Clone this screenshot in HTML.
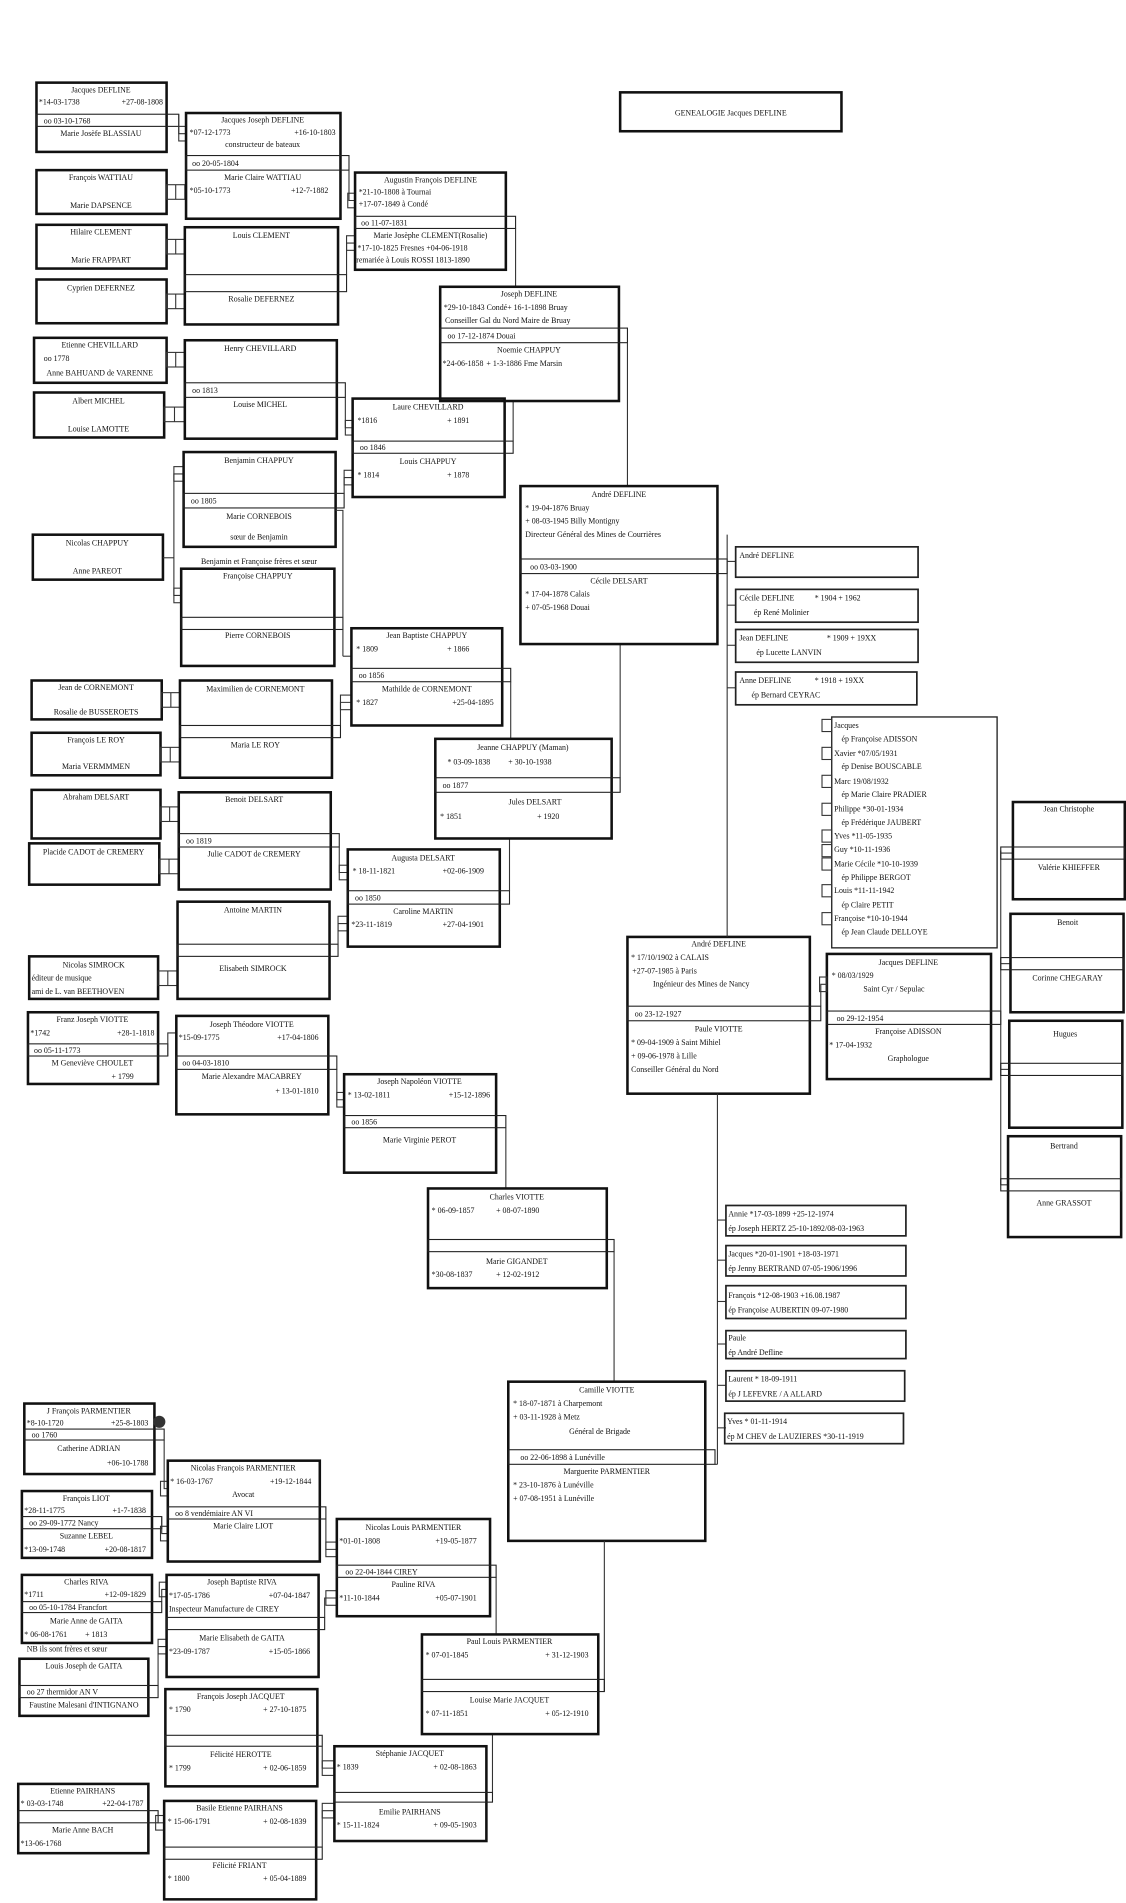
<!DOCTYPE html>
<html><head><meta charset="utf-8"><style>
html,body{margin:0;padding:0;background:#fff;}
svg{display:block}
text{font-family:"Liberation Serif",serif;font-size:6.5px;fill:#111;}
.b{fill:none;stroke:#111;stroke-width:2.1}
.s{fill:none;stroke:#222;stroke-width:.9}
.l{fill:none;stroke:#333;stroke-width:.9}
.c{text-anchor:middle}
.e{text-anchor:end}
</style></head><body>
<svg width="1126" height="1903" viewBox="0 0 926 1566" preserveAspectRatio="none" xmlns="http://www.w3.org/2000/svg">
<rect x="0" y="0" width="926" height="1566" fill="#fff"/>

<!-- Title -->
<rect class="b" x="510" y="76" width="182" height="32"/>
<text class="c" x="601" y="95">GENEALOGIE Jacques DEFLINE</text>

<!-- ===== Column 1 ===== -->
<rect class="b" x="30" y="68" width="107" height="57"/>
<rect class="s" x="30" y="94" width="117" height="10"/>
<text class="c" x="83" y="76">Jacques DEFLINE</text>
<text x="32" y="86">*14-03-1738</text><text class="e" x="134" y="86">+27-08-1808</text>
<text x="36" y="101.5">oo 03-10-1768</text>
<text class="c" x="83" y="112">Marie Josèfe BLASSIAU</text>

<rect class="b" x="30" y="140" width="107" height="36"/>
<text class="c" x="83" y="148">François WATTIAU</text><text class="c" x="83" y="171">Marie DAPSENCE</text>
<rect class="b" x="30" y="185" width="107" height="36"/>
<text class="c" x="83" y="193">Hilaire CLEMENT</text><text class="c" x="83" y="216">Marie FRAPPART</text>
<rect class="b" x="30" y="230" width="107" height="36"/>
<text class="c" x="83" y="239">Cyprien DEFERNEZ</text>
<rect class="b" x="28" y="278" width="109" height="37"/>
<text class="c" x="82" y="286">Etienne CHEVILLARD</text><text x="36" y="297">oo 1778</text><text class="c" x="82" y="309">Anne BAHUAND de VARENNE</text>
<rect class="b" x="28" y="323" width="107" height="37"/>
<text class="c" x="81" y="332">Albert MICHEL</text><text class="c" x="81" y="355">Louise LAMOTTE</text>
<rect class="b" x="27" y="440" width="107" height="37"/>
<text class="c" x="80" y="449">Nicolas CHAPPUY</text><text class="c" x="80" y="472">Anne PAREOT</text>
<rect class="b" x="26" y="560" width="107" height="32"/>
<text class="c" x="79" y="568">Jean de CORNEMONT</text><text class="c" x="79" y="588">Rosalie de BUSSEROETS</text>
<rect class="b" x="26" y="603" width="106" height="35"/>
<text class="c" x="79" y="611">François LE ROY</text><text class="c" x="79" y="633">Maria VERMMMEN</text>
<rect class="b" x="26" y="650" width="106" height="40"/>
<text class="c" x="79" y="658">Abraham DELSART</text>
<rect class="b" x="24" y="694" width="107" height="34"/>
<text class="c" x="77" y="703">Placide CADOT de CREMERY</text>
<rect class="b" x="24" y="787" width="106" height="35"/>
<text class="c" x="77" y="796">Nicolas SIMROCK</text><text x="26" y="807">éditeur de musique</text><text x="26" y="818">ami de L. van BEETHOVEN</text>
<rect class="b" x="23" y="833" width="107" height="59"/>
<rect class="s" x="23" y="859" width="115" height="10"/>
<text class="c" x="76" y="841">Franz Joseph VIOTTE</text>
<text x="25" y="852">*1742</text><text class="e" x="127" y="852">+28-1-1818</text>
<text x="28" y="866.5">oo 05-11-1773</text>
<text class="c" x="76" y="877">M Geneviève CHOULET</text><text class="e" x="110" y="888">+ 1799</text>

<!-- icons between col1 and col2 -->
<g class="l">
<rect x="137" y="152" width="15" height="12"/><line x1="144.5" y1="152" x2="144.5" y2="164"/>
<rect x="137" y="197" width="15" height="12"/><line x1="144.5" y1="197" x2="144.5" y2="209"/>
<rect x="137" y="242" width="15" height="12"/><line x1="144.5" y1="242" x2="144.5" y2="254"/>
<rect x="137" y="290" width="15" height="12"/><line x1="144.5" y1="290" x2="144.5" y2="302"/>
<rect x="135" y="335" width="17" height="12"/><line x1="143.5" y1="335" x2="143.5" y2="347"/>
<rect x="133" y="570" width="15" height="12"/><line x1="140.5" y1="570" x2="140.5" y2="582"/>
<rect x="132" y="615" width="16" height="12"/><line x1="140" y1="615" x2="140" y2="627"/>
<rect x="132" y="664" width="15" height="12"/><line x1="139.5" y1="664" x2="139.5" y2="676"/>
<rect x="131" y="707" width="16" height="12"/><line x1="139" y1="707" x2="139" y2="719"/>
<rect x="130" y="799" width="16" height="12"/><line x1="138" y1="799" x2="138" y2="811"/>
<polyline points="147,94 147,110 153,110"/><rect x="147" y="104" width="6" height="12"/>
<polyline points="138,869 138,850 145,850"/>
<polyline points="151,390 143,390 143,490 149,490"/><line x1="134" y1="459" x2="143" y2="459"/>
<rect x="143" y="384" width="8" height="12"/><rect x="143" y="484" width="6" height="12"/>
</g>

<!-- ===== Column 2 ===== -->
<rect class="b" x="153" y="93" width="127" height="87"/>
<rect class="s" x="153" y="128" width="134" height="12"/>
<text class="c" x="216" y="101">Jacques Joseph DEFLINE</text>
<text x="156" y="111">*07-12-1773</text><text class="e" x="276" y="111">+16-10-1803</text>
<text class="c" x="216" y="121">constructeur de bateaux</text>
<text x="158" y="136.5">oo 20-05-1804</text>
<text class="c" x="216" y="148">Marie Claire WATTIAU</text>
<text x="156" y="159">*05-10-1773</text><text class="e" x="270" y="159">+12-7-1882</text>

<rect class="b" x="152" y="187" width="126" height="80"/>
<rect class="s" x="152" y="226" width="133" height="14"/>
<text class="c" x="215" y="196">Louis CLEMENT</text>
<text class="c" x="215" y="248">Rosalie DEFERNEZ</text>

<rect class="b" x="152" y="280" width="125" height="81"/>
<rect class="s" x="152" y="315" width="132" height="12"/>
<text class="c" x="214" y="289">Henry CHEVILLARD</text>
<text x="158" y="323.5">oo 1813</text>
<text class="c" x="214" y="335">Louise MICHEL</text>

<rect class="b" x="151" y="372" width="125" height="78"/>
<rect class="s" x="151" y="406" width="132" height="12"/>
<text class="c" x="213" y="381">Benjamin CHAPPUY</text>
<text x="157" y="414.5">oo 1805</text>
<text class="c" x="213" y="427">Marie CORNEBOIS</text>
<text class="c" x="213" y="444">sœur de Benjamin</text>
<text class="c" x="213" y="464">Benjamin et Françoise frères et sœur</text>

<rect class="b" x="149" y="468" width="126" height="80"/>
<rect class="s" x="149" y="508" width="133" height="10"/>
<text class="c" x="212" y="476">Françoise CHAPPUY</text>
<text class="c" x="212" y="525">Pierre CORNEBOIS</text>

<rect class="b" x="148" y="560" width="125" height="80"/>
<rect class="s" x="148" y="597" width="132" height="10"/>
<text class="c" x="210" y="569">Maximilien de CORNEMONT</text>
<text class="c" x="210" y="615">Maria LE ROY</text>

<rect class="b" x="147" y="652" width="125" height="80"/>
<rect class="s" x="147" y="686" width="132" height="11"/>
<text class="c" x="209" y="660">Benoit DELSART</text>
<text x="153" y="694">oo 1819</text>
<text class="c" x="209" y="705">Julie CADOT de CREMERY</text>

<rect class="b" x="146" y="742" width="125" height="80"/>
<rect class="s" x="146" y="777" width="132" height="10"/>
<text class="c" x="208" y="751">Antoine MARTIN</text>
<text class="c" x="208" y="799">Elisabeth SIMROCK</text>

<rect class="b" x="145" y="836" width="125" height="81"/>
<rect class="s" x="145" y="869" width="132" height="11"/>
<text class="c" x="207" y="845">Joseph Théodore VIOTTE</text>
<text x="147" y="856">*15-09-1775</text><text class="e" x="262" y="856">+17-04-1806</text>
<text x="150" y="877">oo 04-03-1810</text>
<text class="c" x="207" y="888">Marie Alexandre MACABREY</text>
<text class="e" x="262" y="900">+ 13-01-1810</text>

<g class="l">
<polyline points="287,140 287,165 292,165"/><rect x="286" y="159" width="6" height="12"/>
<polyline points="285,226 285,200 292,200"/><rect x="285" y="194" width="7" height="12"/>
<polyline points="284,327 284,352 290,352"/><rect x="284" y="346" width="6" height="12"/>
<polyline points="283,406 283,393 290,393"/><rect x="283" y="387" width="7" height="12"/>
<polyline points="282,508 282,420 276,420"/>
<polyline points="280,597 280,578 289,578"/><rect x="280" y="572" width="9" height="12"/>
<polyline points="279,697 279,718 286,718"/><rect x="279" y="712" width="7" height="12"/>
<polyline points="278,777 278,760 286,760"/><rect x="278" y="754" width="8" height="12"/>
<polyline points="277,880 277,905 283,905"/><rect x="277" y="899" width="6" height="12"/>
<line x1="282" y1="518" x2="282" y2="540"/><line x1="282" y1="540" x2="289" y2="540"/>
</g>

<!-- ===== Column 3 ===== -->
<rect class="b" x="292" y="142" width="124" height="80"/>
<rect class="s" x="292" y="178" width="132" height="10"/>
<text class="c" x="354" y="150">Augustin François DEFLINE</text>
<text x="295" y="160">*21-10-1808 à Tournai</text>
<text x="295" y="170">+17-07-1849 à Condé</text>
<text x="297" y="185.5">oo 11-07-1831</text>
<text class="c" x="354" y="196">Marie Josèphe CLEMENT(Rosalie)</text>
<text x="294" y="206">*17-10-1825 Fresnes +04-06-1918</text>
<text x="293" y="216">remariée à Louis ROSSI 1813-1890</text>

<rect class="b" x="290" y="328" width="125" height="81"/>
<rect class="s" x="290" y="363" width="132" height="10"/>
<text class="c" x="352" y="337">Laure CHEVILLARD</text>
<text x="294" y="348">*1816</text><text class="e" x="386" y="348">+ 1891</text>
<text x="296" y="370.5">oo 1846</text>
<text class="c" x="352" y="382">Louis CHAPPUY</text>
<text x="294" y="393">* 1814</text><text class="e" x="386" y="393">+ 1878</text>

<rect class="b" x="289" y="517" width="124" height="80"/>
<rect class="s" x="289" y="550" width="131" height="11"/>
<text class="c" x="351" y="525">Jean Baptiste CHAPPUY</text>
<text x="293" y="536">* 1809</text><text class="e" x="386" y="536">+ 1866</text>
<text x="295" y="558">oo 1856</text>
<text class="c" x="351" y="569">Mathilde de CORNEMONT</text>
<text x="293" y="580">* 1827</text><text class="e" x="406" y="580">+25-04-1895</text>

<rect class="b" x="286" y="699" width="125" height="80"/>
<rect class="s" x="286" y="733" width="133" height="11"/>
<text class="c" x="348" y="708">Augusta DELSART</text>
<text x="290" y="719">* 18-11-1821</text><text class="e" x="398" y="719">+02-06-1909</text>
<text x="292" y="741">oo 1850</text>
<text class="c" x="348" y="752">Caroline MARTIN</text>
<text x="289" y="763">*23-11-1819</text><text class="e" x="398" y="763">+27-04-1901</text>

<rect class="b" x="283" y="884" width="125" height="81"/>
<rect class="s" x="283" y="918" width="133" height="10"/>
<text class="c" x="345" y="892">Joseph Napoléon VIOTTE</text>
<text x="286" y="903">* 13-02-1811</text><text class="e" x="403" y="903">+15-12-1896</text>
<text x="289" y="925.5">oo 1856</text>
<text class="c" x="345" y="940">Marie Virginie PEROT</text>

<g class="l">
<polyline points="424,188 424,236"/>
<polyline points="422,363 422,330"/>
<polyline points="420,561 420,608"/>
<polyline points="419,733 419,690"/>
<polyline points="416,928 416,978"/>
</g>

<!-- ===== Column 4 ===== -->
<rect class="b" x="362" y="236" width="147" height="94"/>
<rect class="s" x="362" y="270" width="154" height="12"/>
<text class="c" x="435" y="244">Joseph DEFLINE</text>
<text x="365" y="255">*29-10-1843 Condé+ 16-1-1898 Bruay</text>
<text x="366" y="266">Conseiller Gal du Nord Maire de Bruay</text>
<text x="368" y="278.5">oo 17-12-1874 Douai</text>
<text class="c" x="435" y="290">Noemie CHAPPUY</text>
<text x="364" y="301">*24-06-1858</text><text x="400" y="301">+ 1-3-1886 Fme Marsin</text>

<rect class="b" x="358" y="608" width="145" height="82"/>
<rect class="s" x="358" y="640" width="152" height="12"/>
<text class="c" x="430" y="617">Jeanne CHAPPUY (Maman)</text>
<text x="368" y="629">* 03-09-1838</text><text x="418" y="629">+ 30-10-1938</text>
<text x="364" y="648.5">oo 1877</text>
<text class="c" x="440" y="662">Jules DELSART</text>
<text x="362" y="674">* 1851</text><text class="e" x="460" y="674">+ 1920</text>

<rect class="b" x="352" y="978" width="147" height="82"/>
<rect class="s" x="352" y="1020" width="153" height="10"/>
<text class="c" x="425" y="987">Charles VIOTTE</text>
<text x="355" y="998">* 06-09-1857</text><text x="408" y="998">+ 08-07-1890</text>
<text class="c" x="425" y="1040">Marie GIGANDET</text>
<text x="355" y="1051">*30-08-1837</text><text x="408" y="1051">+ 12-02-1912</text>

<g class="l">
<polyline points="516,282 516,400"/>
<polyline points="510,640 510,530"/>
<polyline points="505,1030 505,1137"/>
</g>

<!-- ===== Column 5 ===== -->
<rect class="b" x="428" y="400" width="162" height="130"/>
<rect class="s" x="428" y="460" width="170" height="12"/>
<text class="c" x="509" y="409">André DEFLINE</text>
<text x="432" y="420">* 19-04-1876 Bruay</text>
<text x="432" y="431">+ 08-03-1945 Billy Montigny</text>
<text x="432" y="442">Directeur Général des Mines de Courrières</text>
<text x="436" y="468.5">oo 03-03-1900</text>
<text class="c" x="509" y="480">Cécile DELSART</text>
<text x="432" y="491">* 17-04-1878 Calais</text>
<text x="432" y="502">+ 07-05-1968 Douai</text>

<rect class="b" x="516" y="771" width="150" height="129"/>
<rect class="s" x="516" y="828" width="159" height="12"/>
<text class="c" x="591" y="779">André DEFLINE</text>
<text x="519" y="790">* 17/10/1902 à CALAIS</text>
<text x="520" y="801">+27-07-1985 à Paris</text>
<text x="537" y="812">Ingénieur des Mines de Nancy</text>
<text x="522" y="836.5">oo 23-12-1927</text>
<text class="c" x="591" y="849">Paule VIOTTE</text>
<text x="519" y="860">* 09-04-1909 à Saint Mihiel</text>
<text x="519" y="871">+ 09-06-1978 à Lille</text>
<text x="519" y="882">Conseiller Général du Nord</text>

<rect class="b" x="418" y="1137" width="162" height="131"/>
<rect class="s" x="418" y="1193" width="170" height="12"/>
<text class="c" x="499" y="1146">Camille VIOTTE</text>
<text x="422" y="1157">* 18-07-1871 à Charpemont</text>
<text x="422" y="1168">+ 03-11-1928 à Metz</text>
<text x="468" y="1180">Général de Brigade</text>
<text x="428" y="1201.5">oo 22-06-1898 à Lunéville</text>
<text class="c" x="499" y="1213">Marguerite PARMENTIER</text>
<text x="422" y="1224">* 23-10-1876 à Lunéville</text>
<text x="422" y="1235">+ 07-08-1951 à Lunéville</text>

<g class="l">
<line x1="598" y1="440" x2="598" y2="771"/>
<line x1="598" y1="462" x2="605" y2="462"/>
<line x1="598" y1="498" x2="605" y2="498"/>
<line x1="598" y1="531" x2="605" y2="531"/>
<line x1="598" y1="566" x2="605" y2="566"/>
<line x1="590" y1="900" x2="590" y2="1205"/>
<line x1="588" y1="1205" x2="590" y2="1205"/>
<line x1="590" y1="1004" x2="597" y2="1004"/>
<line x1="590" y1="1037" x2="597" y2="1037"/>
<line x1="590" y1="1071" x2="597" y2="1071"/>
<line x1="590" y1="1106" x2="597" y2="1106"/>
<line x1="590" y1="1140" x2="597" y2="1140"/>
<line x1="590" y1="1175" x2="597" y2="1175"/>
</g>
<rect class="s" x="605" y="450" width="150" height="25" style="stroke-width:1.4"/>
<text x="608" y="459">André DEFLINE</text>
<rect class="s" x="605" y="485" width="150" height="27" style="stroke-width:1.4"/>
<text x="608" y="494">Cécile DEFLINE</text><text x="670" y="494">* 1904 + 1962</text><text x="620" y="506">ép René Molinier</text>
<rect class="s" x="605" y="518" width="150" height="27" style="stroke-width:1.4"/>
<text x="608" y="527">Jean DEFLINE</text><text x="680" y="527">* 1909 + 19XX</text><text x="622" y="539">ép Lucette LANVIN</text>
<rect class="s" x="605" y="553" width="149" height="27" style="stroke-width:1.4"/>
<text x="608" y="562">Anne DEFLINE</text><text x="670" y="562">* 1918 + 19XX</text><text x="618" y="574">ép Bernard CEYRAC</text>

<rect class="s" x="684" y="590" width="136" height="190" style="stroke-width:1.1"/>
<g class="l">
<rect x="676" y="592" width="8" height="10"/><rect x="676" y="615" width="8" height="10"/>
<rect x="676" y="638" width="8" height="10"/><rect x="676" y="661" width="8" height="10"/>
<rect x="676" y="683" width="8" height="10"/><rect x="676" y="695" width="8" height="10"/>
<rect x="676" y="706" width="8" height="10"/><rect x="676" y="728" width="8" height="10"/>
<rect x="676" y="751" width="8" height="10"/>
</g>
<text x="686" y="599">Jacques</text>
<text x="692" y="610">ép Françoise ADISSON</text>
<text x="686" y="622">Xavier  *07/05/1931</text>
<text x="692" y="633">ép Denise BOUSCABLE</text>
<text x="686" y="645">Marc  19/08/1932</text>
<text x="692" y="656">ép  Marie Claire PRADIER</text>
<text x="686" y="668">Philippe  *30-01-1934</text>
<text x="692" y="679">ép  Frédérique JAUBERT</text>
<text x="686" y="690">Yves  *11-05-1935</text>
<text x="686" y="701">Guy  *10-11-1936</text>
<text x="686" y="713">Marie Cécile   *10-10-1939</text>
<text x="692" y="724">ép  Philippe BERGOT</text>
<text x="686" y="735">Louis  *11-11-1942</text>
<text x="692" y="747">ép  Claire PETIT</text>
<text x="686" y="758">Françoise *10-10-1944</text>
<text x="692" y="769">ép Jean Claude DELLOYE</text>

<rect class="b" x="680" y="785" width="135" height="103"/>
<rect class="s" x="680" y="832" width="143" height="11"/>
<text class="c" x="747" y="794">Jacques DEFLINE</text>
<text x="684" y="805">* 08/03/1929</text>
<text x="710" y="816">Saint Cyr / Sepulac</text>
<text x="688" y="840">oo 29-12-1954</text>
<text class="c" x="747" y="851">Françoise ADISSON</text>
<text x="682" y="862">* 17-04-1932</text>
<text x="730" y="873">Graphologue</text>
<g class="l">
<polyline points="675,828 675,810 680,810"/><rect x="674" y="804" width="6" height="12"/>
<line x1="823" y1="700" x2="823" y2="975"/>
<line x1="823" y1="702" x2="833" y2="702"/>
<line x1="823" y1="793" x2="831" y2="793"/>
<line x1="823" y1="880" x2="830" y2="880"/>
<line x1="823" y1="975" x2="829" y2="975"/>
</g>

<rect class="b" x="833" y="660" width="92" height="80"/>
<rect class="s" x="823" y="697" width="102" height="10"/>
<text class="c" x="879" y="668">Jean Christophe</text><text class="c" x="879" y="716">Valérie KHIEFFER</text>
<rect class="b" x="831" y="752" width="93" height="81"/>
<rect class="s" x="823" y="788" width="101" height="10"/>
<text class="c" x="878" y="761">Benoit</text><text class="c" x="878" y="807">Corinne CHEGARAY</text>
<rect class="b" x="830" y="840" width="93" height="88"/>
<rect class="s" x="823" y="875" width="100" height="10"/>
<text class="c" x="876" y="853">Hugues</text>
<rect class="b" x="829" y="935" width="93" height="83"/>
<rect class="s" x="823" y="970" width="99" height="10"/>
<text class="c" x="875" y="945">Bertrand</text><text class="c" x="875" y="992">Anne GRASSOT</text>

<rect class="s" x="597" y="992" width="148" height="25" style="stroke-width:1.4"/>
<text x="599" y="1001">Annie  *17-03-1899  +25-12-1974</text><text x="599" y="1013">ép Joseph HERTZ 25-10-1892/08-03-1963</text>
<rect class="s" x="597" y="1025" width="148" height="25" style="stroke-width:1.4"/>
<text x="599" y="1034">Jacques *20-01-1901 +18-03-1971</text><text x="599" y="1046">ép Jenny BERTRAND 07-05-1906/1996</text>
<rect class="s" x="597" y="1058" width="148" height="27" style="stroke-width:1.4"/>
<text x="599" y="1068">François  *12-08-1903 +16.08.1987</text><text x="599" y="1080">ép Françoise AUBERTIN 09-07-1980</text>
<rect class="s" x="597" y="1095" width="148" height="23" style="stroke-width:1.4"/>
<text x="599" y="1103">Paule</text><text x="599" y="1115">ép André Defline</text>
<rect class="s" x="597" y="1128" width="147" height="25" style="stroke-width:1.4"/>
<text x="599" y="1137">Laurent * 18-09-1911</text><text x="599" y="1149">ép J LEFEVRE / A ALLARD</text>
<rect class="s" x="596" y="1163" width="147" height="25" style="stroke-width:1.4"/>
<text x="598" y="1172">Yves * 01-11-1914</text><text x="598" y="1184">ép M CHEV de LAUZIERES *30-11-1919</text>

<!-- ===== Bottom left ===== -->
<rect class="b" x="20" y="1155" width="107" height="58"/>
<rect class="s" x="20" y="1176" width="115" height="9"/>
<text class="c" x="73" y="1163">J François PARMENTIER</text>
<text x="22" y="1173">*8-10-1720</text><text class="e" x="122" y="1173">+25-8-1803</text>
<text x="26" y="1183">oo  1760</text>
<text class="c" x="73" y="1194">Catherine ADRIAN</text>
<text class="e" x="122" y="1206">+06-10-1788</text>
<circle cx="131" cy="1170" r="5" fill="#333"/>

<rect class="b" x="18" y="1227" width="107" height="55"/>
<rect class="s" x="18" y="1248" width="115" height="10"/>
<text class="c" x="71" y="1235">François LIOT</text>
<text x="20" y="1245">*28-11-1775</text><text class="e" x="120" y="1245">+1-7-1838</text>
<text x="24" y="1255.5">oo  29-09-1772 Nancy</text>
<text class="c" x="71" y="1266">Suzanne LEBEL</text>
<text x="20" y="1277">*13-09-1748</text><text class="e" x="120" y="1277">+20-08-1817</text>

<rect class="b" x="18" y="1296" width="107" height="56"/>
<rect class="s" x="18" y="1318" width="115" height="9"/>
<text class="c" x="71" y="1304">Charles RIVA</text>
<text x="20" y="1314">*1711</text><text class="e" x="120" y="1314">+12-09-1829</text>
<text x="24" y="1325">oo  05-10-1784 Francfort</text>
<text class="c" x="71" y="1336">Marie Anne de GAITA</text>
<text x="20" y="1347">* 06-08-1761</text><text x="70" y="1347">+ 1813</text>
<text x="22" y="1359">NB ils sont frères et sœur</text>

<rect class="b" x="16" y="1365" width="106" height="47"/>
<rect class="s" x="16" y="1387" width="114" height="10"/>
<text class="c" x="69" y="1373">Louis Joseph de GAITA</text>
<text x="22" y="1394.5">oo  27 thermidor AN V</text>
<text class="c" x="69" y="1405">Faustine Malesani d'INTIGNANO</text>

<rect class="b" x="15" y="1468" width="107" height="57"/>
<rect class="s" x="15" y="1490" width="115" height="10"/>
<text class="c" x="68" y="1476">Etienne PAIRHANS</text>
<text x="17" y="1486">* 03-03-1748</text><text class="e" x="118" y="1486">+22-04-1787</text>
<text class="c" x="68" y="1508">Marie Anne BACH</text>
<text x="17" y="1519">*13-06-1768</text>

<g class="l">
<polyline points="135,1185 135,1225 138,1225"/><rect x="132" y="1219" width="6" height="12"/>
<polyline points="133,1248 133,1262 138,1262"/><rect x="132" y="1256" width="6" height="12"/>
<polyline points="133,1318 133,1308 137,1308"/><rect x="131" y="1302" width="6" height="12"/>
<polyline points="130,1387 130,1355 137,1355"/><rect x="130" y="1349" width="7" height="12"/>
<polyline points="130,1490 130,1500 135,1500"/><rect x="128" y="1494" width="7" height="12"/>
</g>

<rect class="b" x="138" y="1202" width="125" height="83"/>
<rect class="s" x="138" y="1240" width="130" height="10"/>
<text class="c" x="200" y="1210">Nicolas François PARMENTIER</text>
<text x="140" y="1221">* 16-03-1767</text><text class="e" x="256" y="1221">+19-12-1844</text>
<text class="c" x="200" y="1232">Avocat</text>
<text x="144" y="1247.5">oo  8 vendémiaire AN VI</text>
<text class="c" x="200" y="1258">Marie Claire LIOT</text>

<rect class="b" x="137" y="1296" width="125" height="84"/>
<rect class="s" x="137" y="1331" width="130" height="10"/>
<text class="c" x="199" y="1304">Joseph Baptiste RIVA</text>
<text x="139" y="1315">*17-05-1786</text><text class="e" x="255" y="1315">+07-04-1847</text>
<text x="139" y="1326">Inspecteur Manufacture de CIREY</text>
<text class="c" x="199" y="1350">Marie Elisabeth de GAITA</text>
<text x="139" y="1361">*23-09-1787</text><text class="e" x="255" y="1361">+15-05-1866</text>

<rect class="b" x="136" y="1390" width="125" height="80"/>
<rect class="s" x="136" y="1428" width="129" height="9"/>
<text class="c" x="198" y="1398">François Joseph JACQUET</text>
<text x="139" y="1409">* 1790</text><text class="e" x="252" y="1409">+ 27-10-1875</text>
<text class="c" x="198" y="1446">Félicité HEROTTE</text>
<text x="139" y="1457">* 1799</text><text class="e" x="252" y="1457">+ 02-06-1859</text>

<rect class="b" x="135" y="1482" width="125" height="81"/>
<rect class="s" x="135" y="1520" width="130" height="10"/>
<text class="c" x="197" y="1490">Basile Etienne PAIRHANS</text>
<text x="138" y="1501">* 15-06-1791</text><text class="e" x="252" y="1501">+ 02-08-1839</text>
<text class="c" x="197" y="1537">Félicité FRIANT</text>
<text x="138" y="1548">* 1800</text><text class="e" x="252" y="1548">+ 05-04-1889</text>

<g class="l">
<polyline points="268,1250 268,1275 277,1275"/><rect x="268" y="1269" width="9" height="12"/>
<polyline points="267,1331 267,1315 277,1315"/><rect x="268" y="1309" width="9" height="12"/>
<polyline points="265,1437 265,1455 275,1455"/><rect x="265" y="1449" width="10" height="12"/>
<polyline points="265,1520 265,1490 275,1490"/><rect x="265" y="1484" width="10" height="12"/>
<polyline points="408,1298 408,1345"/>
<polyline points="405,1475 405,1427"/>
<polyline points="497,1392 497,1268"/>
</g>

<rect class="b" x="277" y="1250" width="126" height="80"/>
<rect class="s" x="277" y="1288" width="131" height="10"/>
<text class="c" x="340" y="1259">Nicolas Louis PARMENTIER</text>
<text x="279" y="1270">*01-01-1808</text><text class="e" x="392" y="1270">+19-05-1877</text>
<text x="284" y="1295.5">oo 22-04-1844  CIREY</text>
<text class="c" x="340" y="1306">Pauline RIVA</text>
<text x="279" y="1317">*11-10-1844</text><text class="e" x="392" y="1317">+05-07-1901</text>

<rect class="b" x="275" y="1437" width="125" height="78"/>
<rect class="s" x="275" y="1475" width="130" height="8"/>
<text class="c" x="337" y="1445">Stéphanie JACQUET</text>
<text x="277" y="1456">* 1839</text><text class="e" x="392" y="1456">+ 02-08-1863</text>
<text class="c" x="337" y="1493">Emilie PAIRHANS</text>
<text x="277" y="1504">* 15-11-1824</text><text class="e" x="392" y="1504">+ 09-05-1903</text>

<rect class="b" x="347" y="1345" width="145" height="82"/>
<rect class="s" x="347" y="1382" width="150" height="10"/>
<text class="c" x="419" y="1353">Paul Louis PARMENTIER</text>
<text x="350" y="1364">* 07-01-1845</text><text class="e" x="484" y="1364">+ 31-12-1903</text>
<text class="c" x="419" y="1401">Louise Marie JACQUET</text>
<text x="350" y="1412">* 07-11-1851</text><text class="e" x="484" y="1412">+ 05-12-1910</text>
</svg>
</body></html>
